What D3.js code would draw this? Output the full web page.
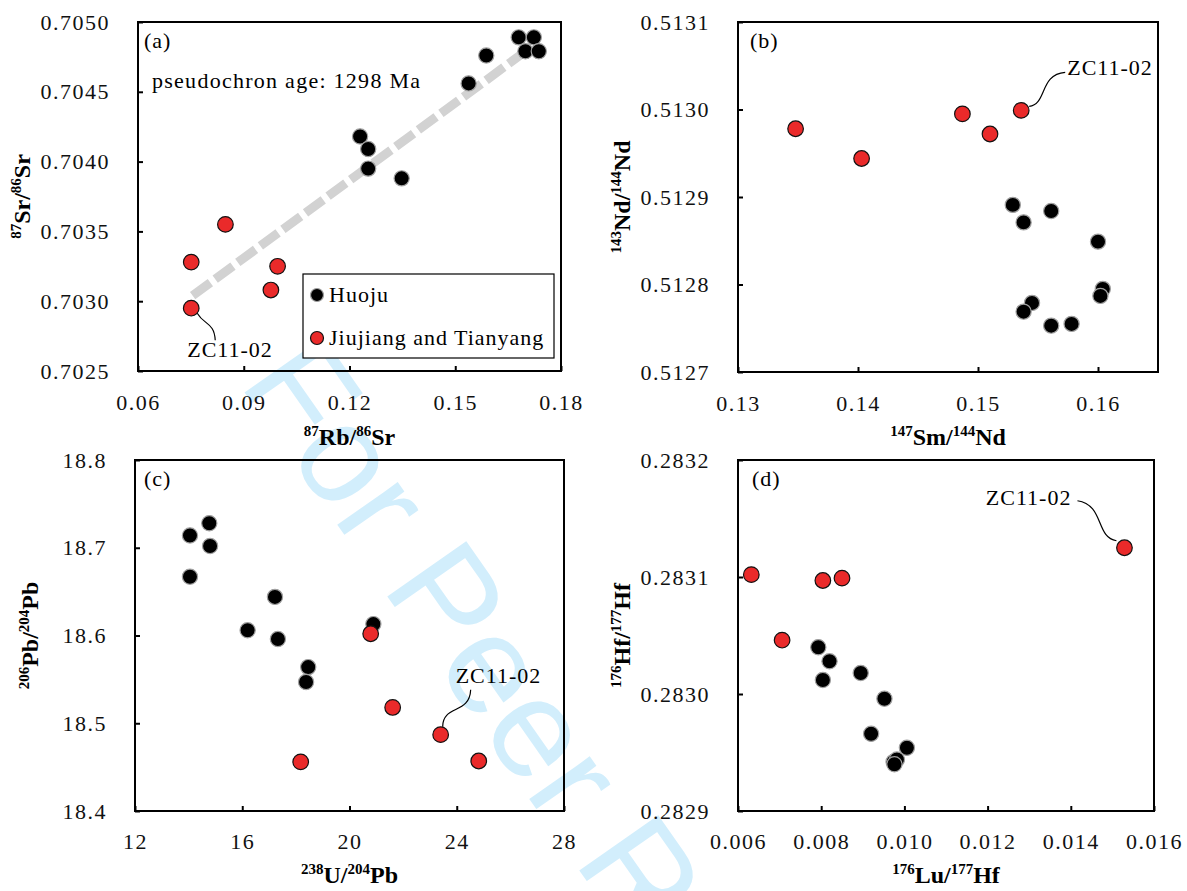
<!DOCTYPE html>
<html>
<head>
<meta charset="utf-8">
<script src="https://cdn.jsdelivr.net/npm/d3@7"></script>
<style>
  body { margin: 0; background: #fff; }
  svg { display: block; font-family: "Liberation Serif", "Times New Roman", serif; }
</style>
</head>
<body>
<svg id="chart" width="1187" height="891"></svg>
<script>
// ---- data ----
// (a) 87Rb/86Sr vs 87Sr/86Sr
const srHuoju = [
  [0.1680, 0.70489], [0.1723, 0.70489], [0.1699, 0.70479], [0.1737, 0.70479],
  [0.1588, 0.70476], [0.1538, 0.70456], [0.1230, 0.70418], [0.1253, 0.70409],
  [0.1253, 0.70395], [0.1348, 0.70388]
];
const srJT = [
  [0.0848, 0.70355], [0.0751, 0.70328], [0.0996, 0.70325], [0.0977, 0.70308], [0.0751, 0.70295]
];
const srPseudochron = [[0.0755, 0.70304], [0.1694, 0.70478]];

// (b) 147Sm/144Nd vs 143Nd/144Nd
const ndHuoju = [
  [0.1529, 0.512891], [0.1538, 0.512871], [0.1561, 0.512884], [0.1600, 0.512849],
  [0.1604, 0.512795], [0.1602, 0.512787], [0.1545, 0.512779], [0.1538, 0.512769],
  [0.1561, 0.512753], [0.1578, 0.512755]
];
const ndJT = [
  [0.1348, 0.512978], [0.1403, 0.512944], [0.1487, 0.512995], [0.1510, 0.512972], [0.1536, 0.512999]
];

// (c) 238U/204Pb vs 206Pb/204Pb
const pbHuoju = [
  [14.05, 18.714], [14.77, 18.728], [14.80, 18.702], [14.05, 18.667], [17.22, 18.644],
  [16.20, 18.606], [17.33, 18.596], [18.46, 18.564], [18.38, 18.547], [20.89, 18.613]
];
const pbJT = [
  [20.79, 18.602], [21.61, 18.518], [23.40, 18.487], [18.18, 18.456], [24.82, 18.457]
];

// (d) 176Lu/177Hf vs 176Hf/177Hf
const hfHuoju = [
  [0.00793, 0.283040], [0.00820, 0.283028], [0.00804, 0.283012], [0.00895, 0.283018],
  [0.00952, 0.282996], [0.00920, 0.282966], [0.01006, 0.282954], [0.00974, 0.282942],
  [0.00982, 0.282944], [0.00976, 0.282940]
];
const hfJT = [
  [0.00632, 0.283102], [0.00706, 0.283046], [0.00804, 0.283097], [0.00850, 0.283099], [0.01529, 0.283125]
];

// tick values
const srXTicks = [0.06, 0.09, 0.12, 0.15, 0.18];
const srYTicks = [0.7025, 0.7030, 0.7035, 0.7040, 0.7045, 0.7050];
const ndXTicks = [0.13, 0.14, 0.15, 0.16];
const ndYTicks = [0.5127, 0.5128, 0.5129, 0.5130, 0.5131];
const pbXTicks = [12, 16, 20, 24, 28];
const pbYTicks = [18.4, 18.5, 18.6, 18.7, 18.8];
const hfXTicks = [0.006, 0.008, 0.010, 0.012, 0.014, 0.016];
const hfYTicks = [0.2829, 0.2830, 0.2831, 0.2832];

const seriesNames = ['Huoju', 'Jiujiang and Tianyang'];
const sampleLabel = 'ZC11-02';

const svg = d3.select('svg#chart');

// watermark (runs off the bottom edge, as in the original)
svg.append('text')
  .attr('transform', 'translate(238,383) rotate(55)')
  .attr('font-family', '"Liberation Sans", Arial, sans-serif')
  .attr('font-size', 140)
  .attr('fill', '#d2eefc')
  .text('For Peer Review');

const panels = [
  { tag: '(a)', box: { l: 138, r: 561, t: 22, b: 371 }, tagDx: 6,
    xDomain: [0.06, 0.18], yDomain: [0.7025, 0.7050], xTicks: srXTicks, yTicks: srYTicks,
    xFmt: '.2f', yFmt: '.4f', huoju: srHuoju, jt: srJT, xPad: 23, titleY: 445, yTitleX: 30,
    xTitle: [['87', 1], ['Rb/', 0], ['86', 1], ['Sr', 0]],
    yTitle: [['87', 1], ['Sr/', 0], ['86', 1], ['Sr', 0]],
    zc: { i: 4, path: [[6, 5], [13, 17], [23, 14], [24, 32]], text: [-4, 49], anchor: 'start' } },
  { tag: '(b)', box: { l: 738, r: 1158, t: 22, b: 372 }, tagDx: 12,
    xDomain: [0.13, 0.165], yDomain: [0.5127, 0.5131], xTicks: ndXTicks, yTicks: ndYTicks,
    xFmt: '.2f', yFmt: '.4f', huoju: ndHuoju, jt: ndJT, xPad: 23, titleY: 445, yTitleX: 630,
    xTitle: [['147', 1], ['Sm/', 0], ['144', 1], ['Nd', 0]],
    yTitle: [['143', 1], ['Nd/', 0], ['144', 1], ['Nd', 0]],
    zc: { i: 4, path: [[8, -4], [26, -6], [18, -36], [44, -38]], text: [46, -35], anchor: 'start' } },
  { tag: '(c)', box: { l: 135, r: 564, t: 460, b: 811 }, tagDx: 9,
    xDomain: [12, 28], yDomain: [18.4, 18.8], xTicks: pbXTicks, yTicks: pbYTicks,
    xFmt: 'd', yFmt: '.1f', huoju: pbHuoju, jt: pbJT, xPad: 22, titleY: 883, yTitleX: 38,
    xTitle: [['238', 1], ['U/', 0], ['204', 1], ['Pb', 0]],
    yTitle: [['206', 1], ['Pb/', 0], ['204', 1], ['Pb', 0]],
    zc: { i: 2, path: [[2, -8], [2, -30], [29, -20], [30, -45]], text: [15, -52], anchor: 'start' } },
  { tag: '(d)', box: { l: 738, r: 1154, t: 460, b: 811 }, tagDx: 14,
    xDomain: [0.006, 0.016], yDomain: [0.2829, 0.2832], xTicks: hfXTicks, yTicks: hfYTicks,
    xFmt: '.3f', yFmt: '.4f', huoju: hfHuoju, jt: hfJT, xPad: 22, titleY: 883, yTitleX: 630,
    xTitle: [['176', 1], ['Lu/', 0], ['177', 1], ['Hf', 0]],
    yTitle: [['176', 1], ['Hf/', 0], ['177', 1], ['Hf', 0]],
    zc: { i: 4, path: [[-8, -7], [-29, -10], [-20, -43], [-47, -47]], text: [-53, -43], anchor: 'end' } }
];

// writes a title with superscript parts
function richText(sel, parts) {
  parts.forEach((pt, k) => {
    const prevSup = k > 0 && parts[k - 1][1];
    sel.append('tspan')
      .attr('font-size', pt[1] ? 15 : 24)
      .attr('dy', pt[1] ? -9 : (prevSup ? 9 : 0))
      .text(pt[0]);
  });
}

function drawPanel(p) {
  const x = d3.scaleLinear().domain(p.xDomain).range([p.box.l, p.box.r]);
  const y = d3.scaleLinear().domain(p.yDomain).range([p.box.b, p.box.t]);
  const g = svg.append('g');

  const ax = g.append('g')
    .attr('transform', `translate(0, ${p.box.b})`)
    .call(d3.axisBottom(x).tickValues(p.xTicks).tickFormat(d3.format(p.xFmt))
      .tickSizeInner(-5).tickSizeOuter(0).tickPadding(p.xPad));
  const ay = g.append('g')
    .attr('transform', `translate(${p.box.l}, 0)`)
    .call(d3.axisLeft(y).tickValues(p.yTicks).tickFormat(d3.format(p.yFmt))
      .tickSizeInner(-5).tickSizeOuter(0).tickPadding(28));
  [ax, ay].forEach(a => {
    a.select('.domain').remove();
    a.attr('font-family', null).attr('font-size', 22);
    a.selectAll('line').attr('stroke', '#000').attr('stroke-width', 2);
    a.selectAll('text').attr('fill', '#111').style('letter-spacing', '1.5px');
  });

  // frame
  g.append('rect')
    .attr('x', p.box.l).attr('y', p.box.t)
    .attr('width', p.box.r - p.box.l).attr('height', p.box.b - p.box.t)
    .attr('fill', 'none').attr('stroke', '#000').attr('stroke-width', 2);

  // axis titles
  const xt = g.append('text')
    .attr('x', (p.box.l + p.box.r) / 2).attr('y', p.titleY)
    .attr('text-anchor', 'middle').attr('font-weight', 'bold');
  richText(xt, p.xTitle);
  const yt = g.append('text')
    .attr('transform', `translate(${p.yTitleX}, ${(p.box.t + p.box.b) / 2}) rotate(-90)`)
    .attr('text-anchor', 'middle').attr('font-weight', 'bold');
  richText(yt, p.yTitle);

  // panel tag
  g.append('text')
    .attr('x', p.box.l + p.tagDx).attr('y', p.box.t + 26)
    .attr('font-size', 22).style('letter-spacing', '1px')
    .text(p.tag);

  return { g, x, y };
}

function drawPoints(g, x, y, huoju, jt) {
  g.append('g').selectAll('circle')
    .data(huoju).join('circle')
    .attr('cx', d => x(d[0])).attr('cy', d => y(d[1])).attr('r', 7.6)
    .attr('fill', '#000').attr('stroke', '#a0a0a0').attr('stroke-width', 1.2);
  g.append('g').selectAll('circle')
    .data(jt).join('circle')
    .attr('cx', d => x(d[0])).attr('cy', d => y(d[1])).attr('r', 7.8)
    .attr('fill', '#ea2a2a').attr('stroke', '#111').attr('stroke-width', 1.2);
}

function drawSampleLabel(g, x, y, p) {
  const pt = p.jt[p.zc.i];
  const cx = x(pt[0]), cy = y(pt[1]);
  const o = p.zc.path.map(d => [cx + d[0], cy + d[1]]);
  g.append('path')
    .attr('d', `M${o[0]} C${o[1]} ${o[2]} ${o[3]}`)
    .attr('fill', 'none').attr('stroke', '#000').attr('stroke-width', 1.2);
  g.append('text')
    .attr('x', cx + p.zc.text[0]).attr('y', cy + p.zc.text[1])
    .attr('text-anchor', p.zc.anchor)
    .attr('font-size', 22).style('letter-spacing', '1px')
    .text(sampleLabel);
}

panels.forEach((p, k) => {
  const { g, x, y } = drawPanel(p);

  if (k === 0) {
    // pseudochron trend line
    g.append('path')
      .datum(srPseudochron)
      .attr('d', d3.line().x(d => x(d[0])).y(d => y(d[1])))
      .attr('fill', 'none').attr('stroke', '#d2d2d2')
      .attr('stroke-width', 9).attr('stroke-dasharray', '22 6');
    g.append('text')
      .attr('x', p.box.l + 14).attr('y', p.box.t + 66)
      .attr('font-size', 22)
      .attr('textLength', 268).attr('lengthAdjust', 'spacing')
      .text('pseudochron age: 1298 Ma');
  }

  drawPoints(g, x, y, p.huoju, p.jt);
  drawSampleLabel(g, x, y, p);

  if (k === 0) {
    // legend
    const lg = g.append('g');
    lg.append('rect')
      .attr('x', 303).attr('y', 274).attr('width', 251).attr('height', 84)
      .attr('fill', '#fff').attr('stroke', '#000').attr('stroke-width', 1.2);
    const colors = [['#000', '#a0a0a0'], ['#ea2a2a', '#111']];
    seriesNames.forEach((name, i) => {
      lg.append('circle')
        .attr('cx', 317).attr('cy', 295 + i * 43).attr('r', 6.5)
        .attr('fill', colors[i][0]).attr('stroke', colors[i][1]).attr('stroke-width', 1.2);
      lg.append('text')
        .attr('x', 329).attr('y', 302 + i * 43)
        .attr('font-size', 22).style('letter-spacing', '1px')
        .text(name);
    });
  }
});
</script>
</body>
</html>
